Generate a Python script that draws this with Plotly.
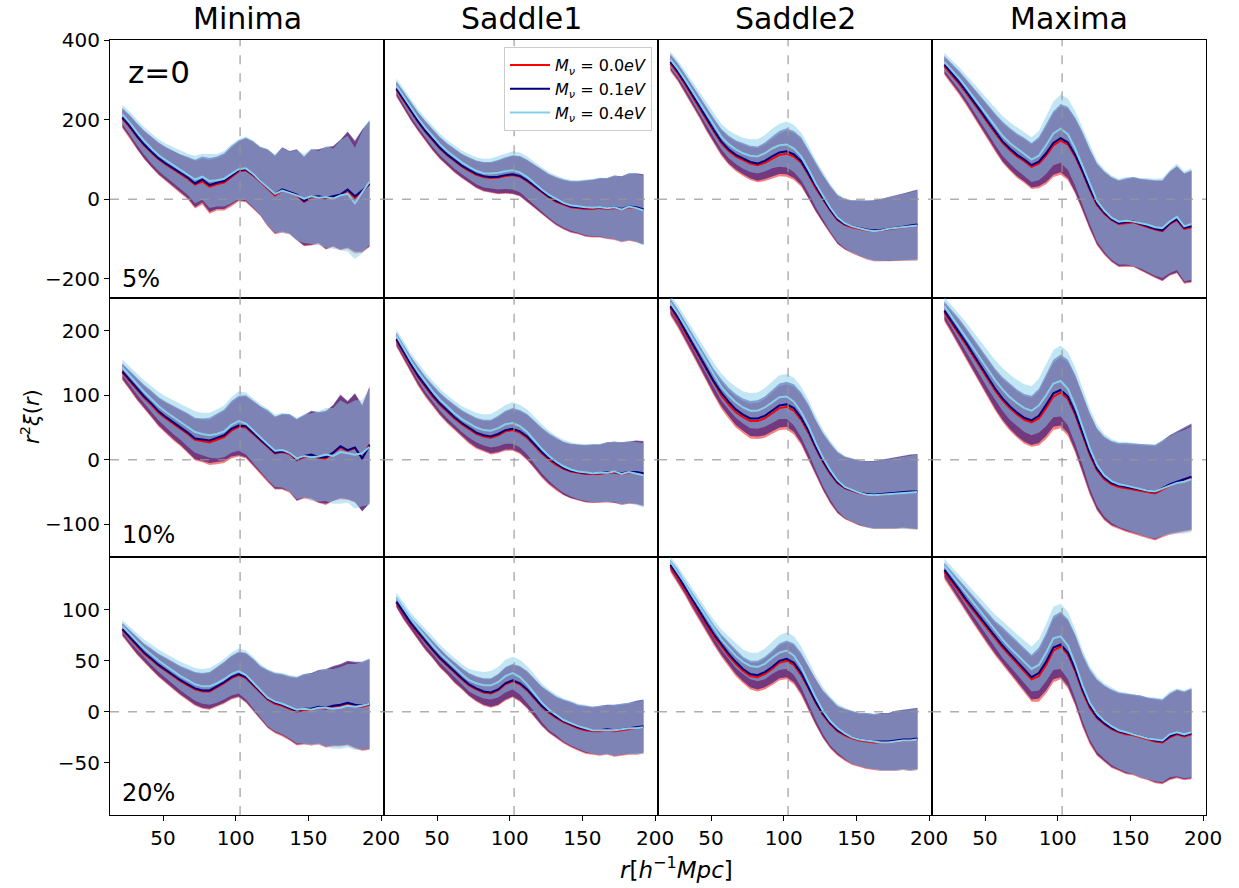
import plotly.graph_objects as go
from plotly.subplots import make_subplots

R = [22, 27, 32, 37, 42, 47, 52, 57, 62, 67, 72, 77, 82, 87, 92, 97, 102, 107, 112, 117,
     122, 127, 132, 137, 142, 147, 152, 157, 162, 167, 172, 177, 182, 187, 192]

COLUMNS = ["Minima", "Saddle1", "Saddle2", "Maxima"]
ROW_LABELS = ["5%", "10%", "20%"]
SERIES = ["<i>M</i><sub><i>ν</i></sub> = 0.0<i>eV</i>",
          "<i>M</i><sub><i>ν</i></sub> = 0.1<i>eV</i>",
          "<i>M</i><sub><i>ν</i></sub> = 0.4<i>eV</i>"]

# ---------------- row 1 (5%) ----------------
MIN5_M00 = [203, 182, 158, 136, 118, 101, 88, 76, 63, 52, 37, 45, 32, 38, 42, 56, 70, 73, 60, 44, 28, 10, 22, 16, 10, -6, 4, 6, 2, 6, 10, 22, 4, 20, 38]
MIN5_M01 = [206, 185, 160, 138, 120, 103, 90, 78, 65, 55, 40, 50, 36, 42, 46, 60, 73, 75, 62, 46, 30, 13, 25, 18, 12, -4, 6, 8, 4, 8, 12, 25, 8, 22, 40]
MIN5_M04 = [214, 193, 169, 147, 128, 111, 98, 86, 74, 63, 50, 57, 46, 48, 52, 64, 76, 78, 64, 46, 30, 14, 22, 16, 10, 2, 8, 4, 6, 2, 10, 14, -10, 18, 44]
MIN5_SIG = [24, 28, 32, 35, 38, 40, 42, 45, 48, 52, 60, 58, 68, 66, 70, 74, 75, 80, 84, 86, 96, 98, 106, 104, 114, 112, 120, 118, 128, 126, 138, 146, 140, 154, 158]

SAD1_5_M00 = [276, 248, 220, 194, 170, 148, 128, 111, 96, 83, 72, 62, 56, 54, 55, 59, 61, 57, 46, 32, 18, 5, -6, -14, -20, -22, -24, -24, -22, -24, -22, -26, -20, -22, -26]
SAD1_5_M01 = [279, 251, 222, 196, 172, 150, 130, 113, 98, 85, 74, 64, 58, 56, 57, 61, 63, 59, 48, 34, 20, 7, -4, -12, -18, -20, -22, -22, -20, -22, -20, -24, -18, -20, -25]
SAD1_5_M04 = [286, 258, 230, 204, 180, 158, 138, 121, 106, 93, 82, 72, 66, 65, 67, 71, 73, 68, 56, 40, 25, 11, 0, -9, -15, -18, -20, -21, -19, -22, -20, -26, -18, -22, -28]
SAD1_5_SIG = [18, 20, 22, 23, 25, 26, 27, 28, 29, 30, 32, 34, 36, 38, 42, 45, 48, 50, 52, 54, 55, 57, 60, 62, 64, 66, 70, 72, 74, 76, 80, 82, 84, 86, 88]

SAD2_5_M00 = [342, 318, 290, 260, 230, 198, 170, 142, 122, 108, 98, 90, 86, 92, 102, 112, 115, 108, 92, 62, 28, 0, -28, -52, -64, -70, -74, -78, -80, -78, -76, -73, -70, -68, -66]
SAD2_5_M01 = [346, 322, 294, 264, 234, 202, 174, 146, 126, 112, 102, 94, 90, 97, 108, 118, 121, 113, 96, 65, 31, 2, -26, -50, -62, -68, -72, -76, -78, -77, -74, -72, -69, -66, -63]
SAD2_5_M04 = [352, 329, 302, 273, 243, 213, 185, 158, 139, 126, 116, 110, 108, 116, 128, 136, 138, 128, 108, 76, 40, 8, -21, -46, -60, -68, -73, -77, -80, -78, -74, -72, -70, -68, -66]
SAD2_5_SIG = [20, 21, 22, 24, 26, 28, 30, 32, 35, 37, 39, 41, 43, 46, 50, 54, 58, 59, 60, 60, 60, 60, 60, 61, 63, 66, 70, 73, 76, 78, 80, 82, 84, 86, 88]

MAX5_M00 = [335, 314, 292, 268, 244, 218, 192, 166, 142, 124, 108, 96, 82, 90, 110, 136, 148, 138, 108, 68, 24, -14, -36, -52, -62, -60, -58, -64, -70, -76, -80, -62, -52, -74, -70]
MAX5_M01 = [339, 318, 296, 272, 248, 222, 196, 170, 146, 128, 112, 100, 86, 95, 116, 142, 154, 143, 112, 72, 28, -11, -33, -50, -60, -57, -56, -62, -68, -74, -78, -60, -50, -72, -67]
MAX5_M04 = [346, 326, 305, 282, 258, 233, 208, 183, 160, 142, 127, 114, 100, 110, 136, 166, 178, 164, 128, 84, 38, -4, -28, -46, -56, -54, -56, -60, -64, -70, -72, -56, -44, -68, -62]
MAX5_SIG = [22, 25, 28, 31, 34, 38, 42, 46, 50, 52, 54, 55, 56, 62, 72, 80, 86, 90, 94, 98, 100, 102, 104, 106, 108, 110, 112, 114, 118, 122, 126, 130, 134, 138, 140]

# ---------------- row 2 (10%) ----------------
MIN10_M00 = [135, 122, 108, 96, 85, 73, 64, 56, 49, 40, 31, 29, 27, 31, 35, 45, 51, 50, 40, 30, 20, 10, 12, 9, -1, 4, 6, 3, 2, 10, 19, 14, 18, 3, 24]
MIN10_M01 = [137, 124, 110, 98, 87, 75, 66, 58, 51, 42, 33, 31, 30, 34, 38, 48, 53, 52, 42, 31, 22, 11, 13, 11, 0, 6, 8, 4, 4, 11, 21, 15, 19, 2, 22]
MIN10_M04 = [143, 130, 117, 105, 94, 83, 74, 66, 59, 50, 43, 40, 38, 40, 44, 54, 60, 56, 45, 34, 24, 14, 15, 11, 2, 6, 4, 5, 8, 6, 12, 10, 8, 10, 20]
MIN10_SIG = [12, 14, 16, 18, 20, 22, 24, 26, 28, 30, 32, 33, 35, 38, 40, 43, 46, 48, 50, 52, 55, 56, 58, 60, 63, 64, 68, 70, 72, 74, 80, 76, 84, 82, 90]

SAD1_10_M00 = [185, 165, 146, 128, 112, 98, 85, 74, 64, 55, 47, 40, 36, 34, 38, 44, 46, 42, 34, 22, 10, 0, -8, -14, -18, -20, -22, -22, -22, -20, -20, -22, -20, -20, -22]
SAD1_10_M01 = [187, 167, 148, 130, 114, 100, 87, 76, 66, 57, 49, 42, 38, 36, 40, 46, 48, 44, 36, 24, 12, 2, -6, -13, -17, -19, -21, -21, -21, -19, -19, -21, -19, -19, -21]
SAD1_10_M04 = [192, 172, 153, 136, 120, 106, 93, 82, 72, 63, 56, 50, 46, 45, 49, 55, 57, 52, 43, 30, 17, 6, -3, -10, -15, -18, -20, -21, -20, -20, -18, -22, -19, -21, -24]
SAD1_10_SIG = [10, 11, 12, 14, 15, 16, 17, 18, 19, 20, 22, 23, 24, 26, 28, 30, 32, 33, 35, 36, 38, 39, 40, 41, 42, 43, 44, 45, 45, 46, 47, 48, 48, 49, 50]

SAD2_10_M00 = [235, 218, 198, 178, 158, 138, 118, 100, 86, 74, 66, 60, 60, 64, 72, 80, 82, 76, 62, 42, 18, -4, -22, -36, -44, -48, -52, -54, -55, -54, -53, -52, -50, -50, -50]
SAD2_10_M01 = [238, 221, 201, 181, 161, 141, 121, 104, 90, 78, 70, 64, 64, 68, 76, 84, 86, 80, 65, 45, 20, -2, -20, -35, -43, -47, -51, -53, -54, -53, -52, -51, -49, -49, -49]
SAD2_10_M04 = [243, 227, 208, 189, 170, 150, 131, 113, 100, 89, 81, 76, 76, 81, 89, 97, 98, 90, 74, 52, 26, 3, -16, -32, -42, -47, -51, -54, -55, -54, -53, -52, -51, -50, -50]
SAD2_10_SIG = [12, 13, 14, 15, 16, 17, 19, 21, 22, 24, 25, 27, 28, 30, 32, 34, 35, 37, 39, 41, 42, 44, 46, 47, 48, 49, 50, 51, 52, 53, 54, 55, 56, 57, 58]

MAX10_M00 = [228, 212, 196, 178, 160, 142, 124, 107, 92, 80, 70, 62, 58, 64, 80, 98, 104, 94, 70, 40, 8, -16, -30, -38, -42, -44, -46, -48, -50, -52, -46, -40, -36, -32, -28]
MAX10_M01 = [231, 215, 199, 181, 163, 145, 127, 110, 95, 83, 73, 65, 61, 68, 85, 103, 108, 98, 73, 43, 11, -14, -28, -36, -40, -42, -44, -46, -48, -50, -44, -38, -34, -30, -26]
MAX10_M04 = [238, 222, 207, 190, 173, 156, 139, 123, 109, 97, 88, 80, 76, 84, 100, 118, 122, 110, 84, 52, 18, -8, -24, -33, -38, -40, -43, -46, -48, -49, -44, -40, -36, -34, -30]
MAX10_SIG = [14, 17, 20, 23, 25, 27, 29, 31, 33, 35, 36, 37, 38, 42, 48, 52, 55, 57, 59, 60, 62, 63, 64, 65, 66, 68, 69, 70, 72, 73, 74, 76, 78, 80, 82]

# ---------------- row 3 (20%) ----------------
MIN20_M00 = [80, 72, 64, 57, 51, 45, 40, 35, 30, 26, 22, 20, 20, 24, 28, 33, 36, 33, 26, 18, 12, 8, 6, 3, 0, 2, 2, 4, 3, 5, 6, 8, 6, 5, 7]
MIN20_M01 = [81, 73, 65, 58, 52, 46, 41, 36, 31, 27, 23, 21, 21, 25, 29, 34, 37, 34, 27, 19, 13, 9, 7, 4, 1, 3, 3, 5, 4, 6, 7, 9, 7, 6, 8]
MIN20_M04 = [84, 76, 69, 62, 56, 50, 45, 40, 35, 31, 27, 25, 25, 28, 32, 37, 40, 36, 29, 21, 14, 10, 8, 5, 2, 3, 2, 4, 4, 3, 4, 6, 5, 6, 8]
MIN20_SIG = [6, 7, 8, 9, 10, 11, 12, 13, 14, 15, 16, 17, 18, 19, 20, 21, 22, 24, 25, 26, 28, 29, 30, 31, 33, 34, 35, 36, 38, 39, 40, 41, 42, 43, 44]

SAD1_20_M00 = [107, 96, 86, 77, 68, 60, 52, 45, 38, 32, 26, 22, 19, 18, 21, 27, 30, 27, 21, 13, 5, -1, -6, -10, -13, -16, -18, -19, -19, -18, -19, -18, -17, -16, -15]
SAD1_20_M01 = [108, 97, 87, 78, 69, 61, 53, 46, 39, 33, 27, 23, 20, 19, 22, 28, 31, 28, 22, 14, 6, 0, -5, -9, -12, -15, -17, -18, -18, -17, -18, -17, -16, -15, -14]
SAD1_20_M04 = [112, 101, 91, 82, 73, 65, 57, 50, 43, 37, 31, 28, 26, 26, 29, 35, 38, 34, 27, 18, 9, 2, -3, -8, -11, -14, -16, -18, -18, -18, -18, -17, -16, -16, -15]
SAD1_20_SIG = [5, 6, 6, 7, 8, 8, 9, 9, 10, 10, 11, 12, 13, 14, 15, 16, 16, 17, 18, 18, 19, 20, 20, 21, 22, 22, 23, 23, 24, 24, 25, 25, 25, 26, 26]

SAD2_20_M00 = [142, 132, 120, 108, 96, 85, 74, 64, 55, 47, 40, 35, 34, 37, 42, 48, 50, 46, 36, 23, 9, -3, -12, -19, -23, -26, -28, -29, -30, -30, -30, -29, -28, -28, -27]
SAD2_20_M01 = [144, 134, 122, 110, 98, 87, 76, 66, 57, 49, 42, 37, 36, 39, 44, 50, 52, 48, 38, 24, 10, -2, -11, -18, -22, -25, -27, -28, -29, -29, -29, -28, -27, -27, -26]
SAD2_20_M04 = [147, 137, 126, 114, 103, 92, 81, 71, 63, 55, 49, 45, 44, 47, 53, 58, 60, 55, 44, 29, 14, 1, -9, -16, -21, -25, -27, -28, -29, -30, -30, -29, -28, -28, -27]
SAD2_20_SIG = [5, 6, 6, 7, 8, 8, 9, 10, 11, 12, 12, 13, 14, 15, 16, 17, 18, 19, 20, 21, 22, 23, 24, 24, 25, 26, 26, 27, 27, 28, 28, 29, 29, 30, 30]

MAX20_M00 = [137, 128, 118, 108, 99, 89, 80, 71, 63, 55, 47, 40, 32, 35, 46, 60, 64, 56, 40, 20, 4, -6, -12, -17, -20, -22, -23, -25, -27, -29, -30, -25, -22, -24, -22]
MAX20_M01 = [139, 130, 120, 110, 101, 91, 82, 73, 65, 57, 49, 42, 34, 38, 49, 63, 66, 58, 42, 22, 6, -5, -11, -16, -19, -21, -22, -24, -26, -28, -29, -24, -21, -23, -21]
MAX20_M04 = [143, 134, 125, 115, 106, 97, 88, 79, 71, 63, 56, 49, 42, 46, 58, 72, 74, 65, 47, 26, 9, -2, -9, -14, -18, -20, -22, -24, -26, -27, -28, -22, -20, -22, -20]
MAX20_SIG = [7, 8, 10, 11, 13, 14, 15, 16, 18, 19, 20, 21, 22, 25, 28, 31, 32, 33, 34, 35, 36, 37, 37, 38, 38, 39, 39, 40, 40, 41, 41, 42, 43, 43, 44]

ROW_YTICKS = [[-200, 0, 200, 400], [-100, 0, 100, 200], [-50, 0, 50, 100]]
ROW_YRANGE = [[-249, 401], [-150, 250], [-101, 152]]
X_TICKS = [50, 100, 150, 200]
X_RANGE = [13.5, 202]
BAO = 103

PANELS = [
    [(MIN5_M00, MIN5_M01, MIN5_M04, MIN5_SIG), (SAD1_5_M00, SAD1_5_M01, SAD1_5_M04, SAD1_5_SIG),
     (SAD2_5_M00, SAD2_5_M01, SAD2_5_M04, SAD2_5_SIG), (MAX5_M00, MAX5_M01, MAX5_M04, MAX5_SIG)],
    [(MIN10_M00, MIN10_M01, MIN10_M04, MIN10_SIG), (SAD1_10_M00, SAD1_10_M01, SAD1_10_M04, SAD1_10_SIG),
     (SAD2_10_M00, SAD2_10_M01, SAD2_10_M04, SAD2_10_SIG), (MAX10_M00, MAX10_M01, MAX10_M04, MAX10_SIG)],
    [(MIN20_M00, MIN20_M01, MIN20_M04, MIN20_SIG), (SAD1_20_M00, SAD1_20_M01, SAD1_20_M04, SAD1_20_SIG),
     (SAD2_20_M00, SAD2_20_M01, SAD2_20_M04, SAD2_20_SIG), (MAX20_M00, MAX20_M01, MAX20_M04, MAX20_SIG)],
]

LINE_COLORS = ["#ff0000", "#000080", "#87ceeb"]
FILL_COLORS = ["rgba(255,0,0,0.5)", "rgba(0,0,128,0.55)", "rgba(135,206,235,0.5)"]
FONT = "DejaVu Sans"

fig = make_subplots(rows=3, cols=4, horizontal_spacing=0, vertical_spacing=0)

for ri in range(3):
    for ci in range(4):
        m00, m01, m04, sig = PANELS[ri][ci]
        means = [m00, m01, m04]
        for k, m in enumerate(means):
            hi = [a + s for a, s in zip(m, sig)]
            lo = [a - s for a, s in zip(m, sig)]
            fig.add_trace(go.Scatter(x=R + R[::-1], y=hi + lo[::-1], fill="toself",
                                     fillcolor=FILL_COLORS[k], line=dict(width=0),
                                     mode="lines", showlegend=False, hoverinfo="skip"),
                          row=ri + 1, col=ci + 1)
        for k, m in enumerate(means):
            fig.add_trace(go.Scatter(x=R, y=m, mode="lines",
                                     line=dict(color=LINE_COLORS[k], width=2),
                                     name=SERIES[k], showlegend=(ri == 0 and ci == 0),
                                     legend="legend"),
                          row=ri + 1, col=ci + 1)
        fig.add_hline(y=0, row=ri + 1, col=ci + 1, layer="above",
                      line=dict(color="rgba(150,150,150,0.75)", width=1.5, dash="dash"))
        fig.add_vline(x=BAO, row=ri + 1, col=ci + 1, layer="above",
                      line=dict(color="rgba(150,150,150,0.75)", width=1.5, dash="dash"))
        fig.update_xaxes(range=X_RANGE, tickvals=X_TICKS, showticklabels=(ri == 2),
                         ticks="outside" if ri == 2 else "", ticklen=5, tickcolor="black",
                         showline=True, mirror=True, linecolor="black", linewidth=1,
                         showgrid=False, zeroline=False,
                         tickfont=dict(family=FONT, size=20, color="black"),
                         row=ri + 1, col=ci + 1)
        fig.update_yaxes(range=ROW_YRANGE[ri], tickvals=ROW_YTICKS[ri],
                         showticklabels=(ci == 0),
                         ticks="outside" if ci == 0 else "", ticklen=5, tickcolor="black",
                         showline=True, mirror=True, linecolor="black", linewidth=1,
                         showgrid=False, zeroline=False,
                         tickfont=dict(family=FONT, size=20, color="black"),
                         row=ri + 1, col=ci + 1)

W, H = 1239, 888
L, Rm, T, B = 110, 33, 40, 73
PW, PH = W - L - Rm, H - T - B

def px(x):
    return (x - L) / PW

def py(y):
    return (H - B - y) / PH

annotations = []
for ci, name in enumerate(COLUMNS):
    annotations.append(dict(text=name, x=(ci + 0.5) / 4, y=1, xref="paper", yref="paper",
                            xanchor="center", yanchor="bottom", yshift=2, showarrow=False,
                            font=dict(family=FONT, size=30, color="black")))
annotations.append(dict(text="z=0", x=px(126), y=py(72), xref="paper", yref="paper",
                        xanchor="left", yanchor="middle", showarrow=False,
                        font=dict(family=FONT, size=31, color="black")))
for ri, lab in enumerate(ROW_LABELS):
    ycen = [279, 535, 793][ri]
    annotations.append(dict(text=lab, x=px(120), y=py(ycen), xref="paper", yref="paper",
                            xanchor="left", yanchor="middle", showarrow=False,
                            font=dict(family=FONT, size=24, color="black")))
annotations.append(dict(text="<i>r</i><sup>2</sup><i>ξ</i>(<i>r</i>)", x=px(30), y=py(417),
                        xref="paper", yref="paper", xanchor="center", yanchor="middle",
                        textangle=-90, showarrow=False,
                        font=dict(family=FONT, size=21, color="black")))
annotations.append(dict(text="<i>r</i>[<i>h</i><sup>−1</sup><i>Mpc</i>]", x=px(618), y=py(868),
                        xref="paper", yref="paper", xanchor="left", yanchor="middle",
                        showarrow=False, font=dict(family=FONT, size=23, color="black")))

fig.update_layout(
    width=W, height=H,
    margin=dict(l=L, r=Rm, t=T, b=B),
    paper_bgcolor="white", plot_bgcolor="white",
    font=dict(family=FONT, color="black"),
    annotations=annotations,
    legend=dict(x=px(652), y=py(47), xanchor="right", yanchor="top",
                bgcolor="white", bordercolor="#cccccc", borderwidth=1,
                font=dict(family=FONT, size=16, color="black"),
                tracegroupgap=0, itemwidth=40),
)

fig.write_html("out.html")
